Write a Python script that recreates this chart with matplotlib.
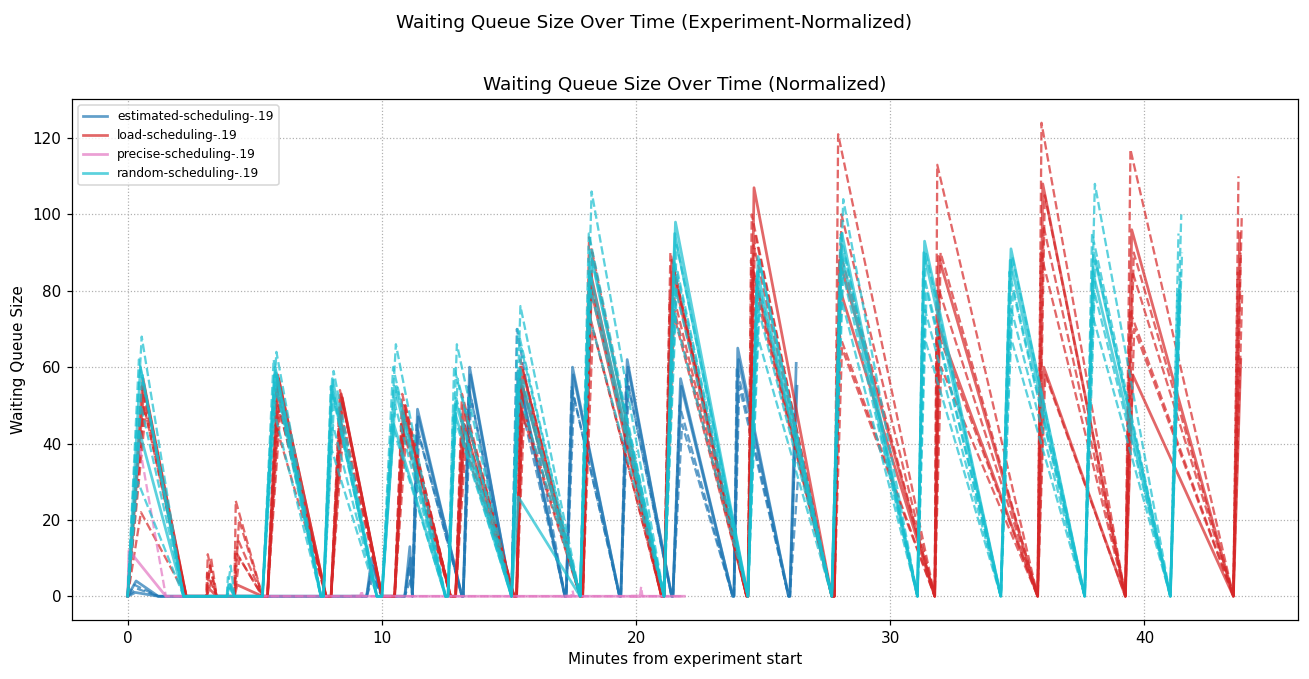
import numpy as np
import matplotlib
matplotlib.use("Agg")
import matplotlib.pyplot as plt

# ---- data (minutes from start, queue size) ----
# each scheduler: cycle rise start / peak time / back-to-zero time, then peak height per run
# solid rows first, the rest dashed

est_rise = [0.0, 9.4, 10.9, 11.2, 13.2, 15.1, 17.25, 19.4, 21.45, 23.85, 26.05]
est_peak_t = [0.3, 9.6, 11.1, 11.4, 13.45, 15.35, 17.5, 19.65, 21.75, 24.0, 26.3]
est_zero_t = [1.2, 10.0, 11.2, 13.15, 15.1, 17.2, 19.35, 21.4, 23.8, 26.0, None]
est_peaks = [
    [1, 10, 13, 49, 60, 59, 60, 62, 57, 65, 61],
    [4, 8, 10, 47, 58, 57, 58, 60, 55, 62, 55],
    [3, 6, 8, 45, 55, 70, 55, 58, 50, 60, 40],
    [2, 5, 5, 42, 52, 52, 52, 55, 45, 55, 30],
]
est_styles = ['-', '-', '--', '--']
est_shift = [0.0, 0.03, -0.04, 0.06]

load_rise = [0.0, 3.1, 4.2, 5.5, 8.0, 10.5, 12.9, 15.3, 17.9, 21.1, 24.4, 27.8, 31.75, 35.8, 39.25, 43.5]
load_peak_t = [0.6, 3.2, 4.3, 5.9, 8.4, 10.85, 13.2, 15.5, 18.2, 21.4, 24.6, 28.0, 31.9, 36.0, 39.5, 43.75]
load_zero_t = [2.3, 3.5, 5.3, 7.8, 10.0, 12.7, 15.2, 17.8, 21.0, 24.35, 27.7, 31.75, 35.8, 39.25, 43.5, None]
load_peaks = [
    [57, 2, 3, 58, 53, 50, 50, 60, 85, 88, 85, 88, 89, 108, 96, 95],
    [55, 0, 0, 57, 52, 48, 45, 55, 80, 85, 107, 80, 70, 60, 58, 62],
    [55, 11, 25, 55, 54, 53, 53, 62, 94, 90, 100, 121, 113, 124, 117, 110],
    [52, 10, 20, 52, 50, 50, 48, 58, 90, 86, 95, 100, 90, 105, 90, 100],
    [50, 8, 15, 50, 52, 47, 45, 55, 82, 80, 92, 90, 80, 97, 85, 90],
    [22, 6, 12, 45, 48, 45, 42, 50, 75, 78, 88, 70, 70, 90, 75, 85],
    [48, 4, 10, 48, 45, 42, 40, 48, 70, 75, 80, 65, 60, 58, 70, 80],
]
load_styles = ['-', '-', '--', '--', '--', '--', '--']
load_shift = [0.0, 0.04, -0.05, 0.08, 0.03, -0.08, 0.1]

precise_rise = [0.0, 9.15, 17.45, 20.15]
precise_peak_t = [0.45, 9.2, 17.5, 20.2]
precise_zero_t = [1.5, 9.25, 17.55, 20.25]
precise_peaks = [
    [12, 0, 0, 0],
    [40, 1.5, 1.5, 2.5],
]
precise_styles = ['-', '--']
precise_shift = [-0.4, 0.0]
precise_end = 21.9

random_rise = [0.0, 3.9, 5.3, 7.7, 10.0, 12.6, 15.1, 17.8, 21.1, 24.4, 27.7, 31.07, 34.35, 37.65, 41.02]
random_peak_t = [0.5, 4.0, 5.8, 8.05, 10.5, 12.9, 15.4, 18.2, 21.55, 24.8, 28.1, 31.35, 34.75, 38.0, 41.4]
random_zero_t = [2.2, 4.2, 7.6, 9.8, 12.5, 15.1, 17.8, 21.1, 24.4, 27.7, 31.07, 34.35, 37.65, 41.02, None]
random_peaks = [
    [60, 3, 60, 57, 55, 51, 58, 90, 98, 89, 95, 93, 91, 90, 80],
    [43, 0, 58, 55, 45, 48, 26, 85, 95, 85, 90, 90, 88, 85, 80],
    [68, 8, 64, 59, 66, 66, 76, 106, 92, 88, 104, 90, 89, 108, 100],
    [62, 5, 62, 55, 60, 60, 70, 95, 88, 83, 95, 85, 85, 95, 95],
    [58, 3, 58, 52, 55, 57, 65, 88, 85, 80, 90, 80, 80, 88, 90],
    [50, 2, 55, 45, 50, 52, 60, 80, 80, 75, 85, 75, 75, 80, 85],
    [30, 0, 50, 40, 45, 48, 55, 75, 75, 70, 80, 70, 70, 75, 80],
]
random_styles = ['-', '-', '--', '--', '--', '--', '--']
random_shift = [0.0, -0.03, 0.05, -0.06, 0.08, 0.02, -0.1]


def build(rise, peak_t, zero_t, peaks, shift, end=None):
    xs, ys = [], []
    for r, p, z, v in zip(rise, peak_t, zero_t, peaks):
        xs += [r, p + shift]
        ys += [0, v]
        if z is not None:
            xs.append(z)
            ys.append(0)
    if end is not None:
        xs.append(end)
        ys.append(0)
    return xs, ys


schedulers = [
    ("estimated-scheduling-.19", "tab:blue", est_rise, est_peak_t, est_zero_t, est_peaks, est_styles, est_shift, None),
    ("load-scheduling-.19", "tab:red", load_rise, load_peak_t, load_zero_t, load_peaks, load_styles, load_shift, None),
    ("precise-scheduling-.19", "tab:pink", precise_rise, precise_peak_t, precise_zero_t, precise_peaks,
     precise_styles, precise_shift, precise_end),
    ("random-scheduling-.19", "tab:cyan", random_rise, random_peak_t, random_zero_t, random_peaks,
     random_styles, random_shift, None),
]

fig = plt.figure(figsize=(1309 / 110, 679 / 110), dpi=110)
ax = fig.add_subplot(111)
fig.subplots_adjust(left=0.055, right=0.9916, top=0.854, bottom=0.087)

for name, color, rise, peak_t, zero_t, peaks, styles, shifts, end in schedulers:
    for i, (pk, ls, sh) in enumerate(zip(peaks, styles, shifts)):
        xs, ys = build(rise, peak_t, zero_t, pk, sh, end)
        ax.plot(xs, ys, color=color, linestyle=ls, linewidth=1.8 if ls == '-' else 1.5, alpha=0.7,
                label=name if i == 0 else None)

ax.set_title("Waiting Queue Size Over Time (Normalized)")
fig.suptitle("Waiting Queue Size Over Time (Experiment-Normalized)")
ax.set_xlabel("Minutes from experiment start")
ax.set_ylabel("Waiting Queue Size")
ax.grid(True, linestyle=':')
ax.legend(loc='upper left', fontsize=8)

fig.savefig("out.png", dpi=110)
